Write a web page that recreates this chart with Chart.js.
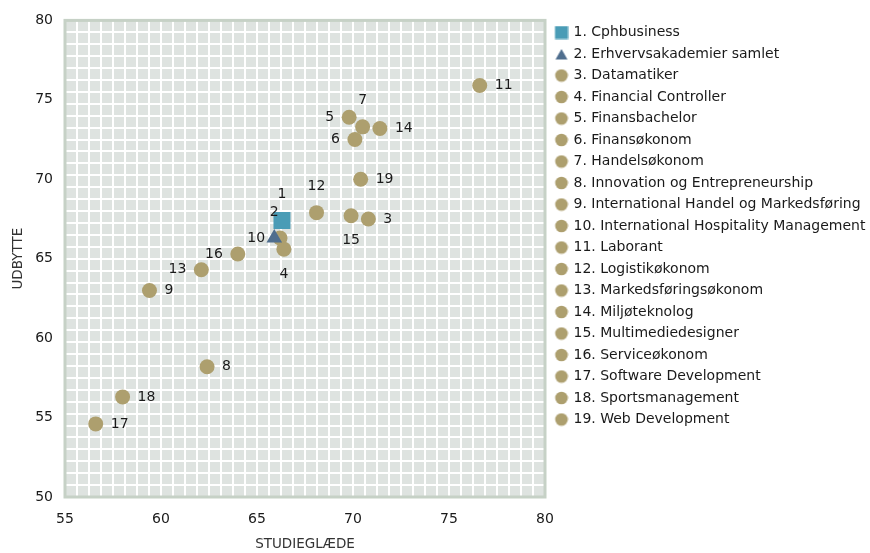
<!DOCTYPE html>
<html>
<head>
<meta charset="utf-8">
<script src="https://cdn.jsdelivr.net/npm/chart.js@4.4.1/dist/chart.umd.min.js"></script>
<style>
  html, body { margin: 0; padding: 0; background: #fff; }
  #wrap { width: 870px; height: 553px; position: relative; }
</style>
</head>
<body>
<div id="wrap"><canvas id="chart"></canvas></div>
<script>
// Data
const names = [
    'Cphbusiness', 'Erhvervsakademier samlet', 'Datamatiker', 'Financial Controller',
    'Finansbachelor', 'Finansøkonom', 'Handelsøkonom', 'Innovation og Entrepreneurship',
    'International Handel og Markedsføring', 'International Hospitality Management',
    'Laborant', 'Logistikøkonom', 'Markedsføringsøkonom', 'Miljøteknolog',
    'Multimediedesigner', 'Serviceøkonom', 'Software Development', 'Sportsmanagement',
    'Web Development'
];
// STUDIEGLÆDE (x)
const studieglaede = [66.3, 65.9, 70.8, 66.4, 69.8, 70.1, 70.5, 62.4, 59.4, 66.2,
                      76.6, 68.1, 62.1, 71.4, 69.9, 64.0, 56.6, 58.0, 70.4];
// UDBYTTE (y)
const udbytte = [67.4, 66.3, 67.5, 65.6, 73.9, 72.5, 73.3, 58.2, 63.0, 66.3,
                 75.9, 67.9, 64.3, 73.2, 67.7, 65.3, 54.6, 56.3, 70.0];
const xTicks = [55, 60, 65, 70, 75, 80];
const yTicks = [50, 55, 60, 65, 70, 75, 80];

// where each number label sits relative to its marker
const labelPos = ['above', 'above', 'right', 'below', 'left', 'left', 'above', 'right', 'right', 'left',
                  'right', 'above', 'left', 'right', 'below', 'left', 'right', 'right', 'right'];

const FONT = "'DejaVu Sans', Verdana, sans-serif";
const TEXT = '#1a1a1a';
const TAN = '#ad9f6e', TEAL = '#4a9cb6', SLATE = '#4f6e8e';

const datasets = names.map((name, i) => {
    let style = 'circle', color = TAN, radius = 7.5;
    if (i === 0) { style = 'rect'; color = TEAL; radius = 12; }
    if (i === 1) { style = 'triangle'; color = SLATE; radius = 9; }
    return {
        label: (i + 1) + '. ' + name,
        data: [{ x: studieglaede[i], y: udbytte[i] }],
        pointStyle: style,
        pointRadius: radius,
        pointHoverRadius: radius,
        backgroundColor: color,
        borderColor: color,
        borderWidth: 0
    };
});

// small marker images for the legend (shape sits a little right of centre)
function legendIcon(kind, color) {
    const c = document.createElement('canvas');
    c.width = 18; c.height = 14;
    const g = c.getContext('2d');
    g.fillStyle = color;
    const cx = 11;
    if (kind === 'rect') {
        g.fillRect(cx - 6.5, 0.5, 13, 13);
    } else if (kind === 'triangle') {
        g.beginPath();
        g.moveTo(cx, 2); g.lineTo(cx + 6, 12.5); g.lineTo(cx - 6, 12.5);
        g.closePath(); g.fill();
    } else {
        g.beginPath();
        g.arc(cx, 7, 6.3, 0, Math.PI * 2);
        g.fill();
    }
    return c;
}
const legendIcons = datasets.map(d => legendIcon(d.pointStyle, d.backgroundColor));

// plot background and frame
const plotFrame = {
    id: 'plotFrame',
    beforeDraw(chart) {
        const { ctx, chartArea: a } = chart;
        ctx.save();
        ctx.fillStyle = '#dee3e0';
        ctx.fillRect(a.left, a.top, a.right - a.left, a.bottom - a.top);
        ctx.restore();
    },
    beforeDatasetsDraw(chart) {
        const { ctx, chartArea: a } = chart;
        ctx.save();
        ctx.strokeStyle = '#c6d1c6';
        ctx.lineWidth = 3;
        ctx.strokeRect(a.left, a.top, a.right - a.left, a.bottom - a.top);
        ctx.restore();
    }
};

// number labels next to the markers
const pointLabels = {
    id: 'pointLabels',
    afterDatasetsDraw(chart) {
        const ctx = chart.ctx;
        ctx.save();
        ctx.font = '14px ' + FONT;
        ctx.fillStyle = TEXT;
        ctx.textBaseline = 'middle';
        chart.data.datasets.forEach((ds, i) => {
            const pt = chart.getDatasetMeta(i).data[0];
            if (!pt) return;
            const txt = String(i + 1);
            let x = pt.x, y = pt.y;
            switch (labelPos[i]) {
                case 'right': ctx.textAlign = 'left'; x += 15; break;
                case 'left': ctx.textAlign = 'right'; x -= 15; break;
                case 'above': ctx.textAlign = 'center'; y -= 26; break;
                case 'below': ctx.textAlign = 'center'; y += 25; break;
            }
            ctx.fillText(txt, x, y);
        });
        ctx.restore();
    }
};

new Chart(document.getElementById('chart'), {
    type: 'scatter',
    data: { datasets: datasets },
    plugins: [plotFrame, pointLabels],
    options: {
        responsive: true,
        maintainAspectRatio: false,
        animation: false,
        layout: { padding: { top: 18, left: 0, right: 0, bottom: 0 } },
        plugins: {
            tooltip: { enabled: false },
            legend: {
                position: 'right',
                align: 'start',
                maxWidth: 325,
                labels: {
                    usePointStyle: true,
                    boxHeight: 9.5,
                    padding: 7.5,
                    color: TEXT,
                    font: { family: FONT, size: 14 },
                    generateLabels(chart) {
                        const items = Chart.defaults.plugins.legend.labels.generateLabels(chart);
                        items.forEach((it, i) => { it.pointStyle = legendIcons[i]; });
                        return items;
                    }
                }
            }
        },
        scales: {
            x: {
                type: 'linear',
                min: 55,
                max: 80,
                afterBuildTicks: s => { s.ticks = xTicks.map(v => ({ value: v })); },
                afterFit: s => { s.height = 56; },
                grid: { display: false, drawTicks: false },
                border: { display: false },
                ticks: { padding: 14, color: TEXT, font: { family: FONT, size: 14 } },
                title: {
                    display: true,
                    text: 'STUDIEGLÆDE',
                    color: '#333',
                    padding: { top: 0, bottom: 0 },
                    font: { family: FONT, size: 13.5 }
                }
            },
            y: {
                type: 'linear',
                min: 50,
                max: 80,
                afterBuildTicks: s => { s.ticks = yTicks.map(v => ({ value: v })); },
                afterFit: s => { s.width = 65; },
                grid: { display: false, drawTicks: false },
                border: { display: false },
                ticks: { padding: 12, color: TEXT, font: { family: FONT, size: 14 } },
                title: {
                    display: true,
                    text: 'UDBYTTE',
                    color: '#333',
                    padding: { top: 10, bottom: 0 },
                    font: { family: FONT, size: 13.5 }
                }
            },
            // hidden axes only used for the background grid pattern
            gx: {
                type: 'linear',
                position: 'top',
                min: 0,
                max: 40,
                afterFit: s => { s.height = 2; },
                ticks: { display: false, stepSize: 1 },
                grid: { color: '#ffffff', lineWidth: 2, drawTicks: false },
                border: { display: false }
            },
            gy: {
                type: 'linear',
                position: 'right',
                min: 0,
                max: 40,
                afterFit: s => { s.width = 0; },
                ticks: { display: false, stepSize: 1 },
                grid: { color: '#ffffff', lineWidth: 2, drawTicks: false },
                border: { display: false }
            }
        }
    }
});
</script>
</body>
</html>
